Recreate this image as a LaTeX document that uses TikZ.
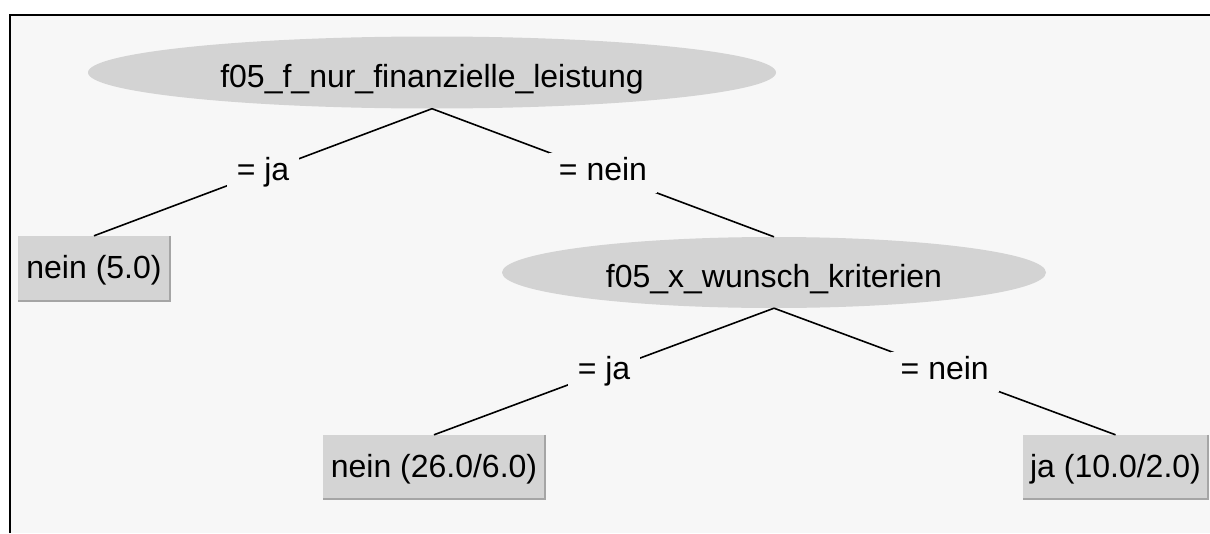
\documentclass[tikz,border=0pt]{standalone}
\usepackage{fontspec}
\setmainfont{Liberation Sans}
\usetikzlibrary{shapes.geometric}
\definecolor{bgc}{RGB}{247,247,247}
\definecolor{nodefill}{RGB}{211,211,211}
\definecolor{boxfill}{RGB}{212,212,212}
\definecolor{shadowc}{RGB}{165,165,165}
\begin{document}
\begin{tikzpicture}[x=1pt,y=-1pt,
  font=\fontsize{32}{38}\selectfont,
  splitnode/.style={ellipse, fill=nodefill, inner sep=0pt, text height=29pt, text depth=0pt},
  leafbox/.style={rectangle, fill=boxfill, inner sep=0pt, text height=20pt, text depth=0pt},
  edgelabel/.style={fill=bgc, inner xsep=10pt, inner ysep=0pt, minimum height=40pt, text height=23pt, text depth=7pt},
  conn/.style={line width=1.6pt, black},
  borderline/.style={line width=2.5pt, black},
  shadowline/.style={line width=2pt, shadowc}]
\useasboundingbox (0,0) rectangle (1210,533);
\path[fill=white] (0,0) rectangle (1210,533);
\path[fill=bgc] (10,15) rectangle (1210,533);
\draw[borderline] (10,533) -- (10,15) -- (1210,15);

\node[splitnode, minimum width=688pt, minimum height=72pt] (root) at (432,72.5) {f05\_f\_nur\_finanzielle\_leistung};
\node[splitnode, minimum width=544pt, minimum height=71pt] (split2) at (774,272.5) {f05\_x\_wunsch\_kriterien};
\node[leafbox, minimum width=152pt, minimum height=65pt] (leafA) at (94,268.5) {nein (5.0)};
\node[leafbox, minimum width=222pt, minimum height=64pt] (leafB) at (434,467) {nein (26.0/6.0)};
\node[leafbox, minimum width=185pt, minimum height=64pt] (leafC) at (1115.5,467) {ja (10.0/2.0)};

\draw[shadowline] (leafA.north east) -- (leafA.south east) -- (leafA.south west);
\draw[shadowline] (leafB.north east) -- (leafB.south east) -- (leafB.south west);
\draw[shadowline] (leafC.north east) -- (leafC.south east) -- (leafC.south west);

\draw[conn] (root.south) -- node[edgelabel] (labA) {= ja} (leafA.north);
\draw[conn] (root.south) -- node[edgelabel] (labB) {= nein} (split2.north);
\draw[conn] (split2.south) -- node[edgelabel] (labC) {= ja} (leafB.north);
\draw[conn] (split2.south) -- node[edgelabel] (labD) {= nein} (leafC.north);
\end{tikzpicture}
\end{document}
